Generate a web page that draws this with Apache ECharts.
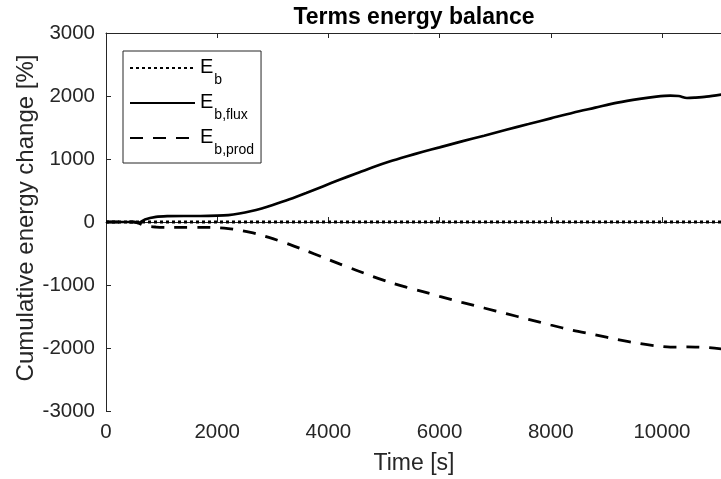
<!DOCTYPE html>
<html>
<head>
<meta charset="utf-8">
<title>Terms energy balance</title>
<script src="https://cdn.jsdelivr.net/npm/echarts@6/dist/echarts.min.js"></script>
<style>
  html, body { margin: 0; padding: 0; background: #ffffff; }
  #chart { width: 721px; height: 479px; }
</style>
</head>
<body>
<div id="chart"></div>
<script>
// Time samples [s]
const timeS = [0, 300, 500, 580, 700, 900, 1100, 1400, 1700, 2000, 2200, 2400, 2600, 2800,
  3000, 3300, 3600, 3900, 4200, 4500, 4800, 5100, 5400, 5700, 6000, 6400, 6800, 7200,
  7600, 8000, 8400, 8800, 9200, 9600, 9900, 10150, 10300, 10450, 10600, 10800, 11080];

// Cumulative energy change [%]
const ebTotal = [0, 0, 0, 0, 0, 0, 0, 0, 0, 0, 0, 0, 0, 0,
  0, 0, 0, 0, 0, 0, 0, 0, 0, 0, 0, 0, 0, 0,
  0, 0, 0, 0, 0, 0, 0, 0, 0, 0, 0, 0, 0];
const ebFlux = [0, 0, 0, -15, 40, 80, 92, 95, 95, 100, 110, 135, 170, 215,
  270, 360, 460, 565, 670, 770, 870, 960, 1040, 1115, 1185, 1280, 1370, 1465,
  1555, 1645, 1735, 1815, 1895, 1955, 1990, 2005, 2000, 1968, 1975, 1990, 2025];
const ebProd = [0, 0, 0, -15, -60, -80, -85, -85, -85, -90, -105, -130, -165, -210,
  -265, -355, -455, -560, -665, -765, -865, -955, -1035, -1105, -1180, -1275, -1365, -1455,
  -1545, -1635, -1720, -1790, -1865, -1930, -1968, -1985, -1985, -1982, -1985, -1992, -2015];

const seriesNames = ['E_b', 'E_b,flux', 'E_b,prod'];
const xTicks = { min: 0, max: 11080, step: 2000 };
const yTicks = { min: -3000, max: 3000, step: 1000 };

const pairs = (ys) => timeS.map((t, i) => [t, ys[i]]);
const plain = (v) => String(v);
const ink = '#262626';
const fontFam = '"Liberation Sans", Arial, Helvetica, sans-serif';

const chart = echarts.init(document.getElementById('chart'), null, { renderer: 'canvas' });

chart.setOption({
  animation: false,
  backgroundColor: '#ffffff',
  title: {
    text: 'Terms energy balance',
    left: 414,
    textAlign: 'center',
    top: 6,
    padding: 0,
    textStyle: { fontFamily: fontFam, fontWeight: 'bold', fontSize: 23, color: '#000000' }
  },
  grid: { left: 106, top: 33, right: -1, bottom: 68, containLabel: false, outerBoundsMode: 'none' },
  legend: {
    orient: 'vertical',
    left: 123,
    top: 51,
    padding: [6, 7, 6, 6],
    itemGap: 5,
    itemWidth: 65,
    itemHeight: 14,
    backgroundColor: '#ffffff',
    borderColor: ink,
    borderWidth: 1,
    borderRadius: 0,
    data: seriesNames,
    itemStyle: { opacity: 0, borderWidth: 0 },
    formatter: (name) => {
      const parts = name.split('_');
      return '{e|' + parts[0] + '}{s|' + parts[1] + '}';
    },
    textStyle: {
      fontFamily: fontFam,
      color: '#000000',
      rich: {
        e: { fontFamily: fontFam, fontSize: 20, lineHeight: 22, verticalAlign: 'top', color: '#000000' },
        s: { fontFamily: fontFam, fontSize: 14, lineHeight: 14, padding: [16, 0, 0, 1], verticalAlign: 'top', color: '#000000' }
      }
    }
  },
  xAxis: [
    {
      type: 'value',
      position: 'bottom',
      min: xTicks.min,
      max: xTicks.max,
      interval: xTicks.step,
      name: 'Time [s]',
      nameLocation: 'middle',
      nameGap: 41,
      nameMoveOverlap: false,
      nameTextStyle: { fontFamily: fontFam, fontSize: 23, color: ink },
      axisLine: { show: true, lineStyle: { color: ink, width: 1 } },
      axisTick: { show: true, inside: true, length: 5, lineStyle: { color: ink } },
      axisLabel: { show: true, showMaxLabel: false, margin: 11, formatter: plain, fontFamily: fontFam, fontSize: 20.5, color: ink },
      splitLine: { show: false }
    },
    {
      type: 'value',
      position: 'top',
      min: xTicks.min,
      max: xTicks.max,
      interval: xTicks.step,
      axisLine: { show: true, lineStyle: { color: ink, width: 1 } },
      axisTick: { show: true, inside: true, length: 5, lineStyle: { color: ink } },
      axisLabel: { show: false },
      splitLine: { show: false }
    }
  ],
  yAxis: {
    type: 'value',
    min: yTicks.min,
    max: yTicks.max,
    interval: yTicks.step,
    name: 'Cumulative energy change [%]',
    nameLocation: 'middle',
    nameGap: 68,
    nameMoveOverlap: false,
    nameTextStyle: { fontFamily: fontFam, fontSize: 24, color: ink, padding: [0, 0, 0, 8] },
    axisLine: { show: true, lineStyle: { color: ink, width: 1 } },
    axisTick: { show: true, inside: true, length: 5, lineStyle: { color: ink } },
    axisLabel: { margin: 11, formatter: plain, fontFamily: fontFam, fontSize: 20.5, color: ink },
    splitLine: { show: false }
  },
  series: [
    {
      name: seriesNames[0],
      type: 'line',
      xAxisIndex: 0,
      data: pairs(ebTotal),
      symbol: 'none',
      smooth: false,
      z: 3,
      lineStyle: { color: '#000000', width: 2.8, type: [3, 3] },
      itemStyle: { color: '#000000' }
    },
    {
      name: seriesNames[1],
      type: 'line',
      xAxisIndex: 0,
      data: pairs(ebFlux),
      symbol: 'none',
      smooth: 0.3,
      z: 4,
      lineStyle: { color: '#000000', width: 2.7, type: 'solid' },
      itemStyle: { color: '#000000' }
    },
    {
      name: seriesNames[2],
      type: 'line',
      xAxisIndex: 0,
      data: pairs(ebProd),
      symbol: 'none',
      smooth: 0.3,
      z: 4,
      lineStyle: { color: '#000000', width: 2.8, type: [13, 10] },
      itemStyle: { color: '#000000' }
    }
  ]
});
</script>
</body>
</html>
